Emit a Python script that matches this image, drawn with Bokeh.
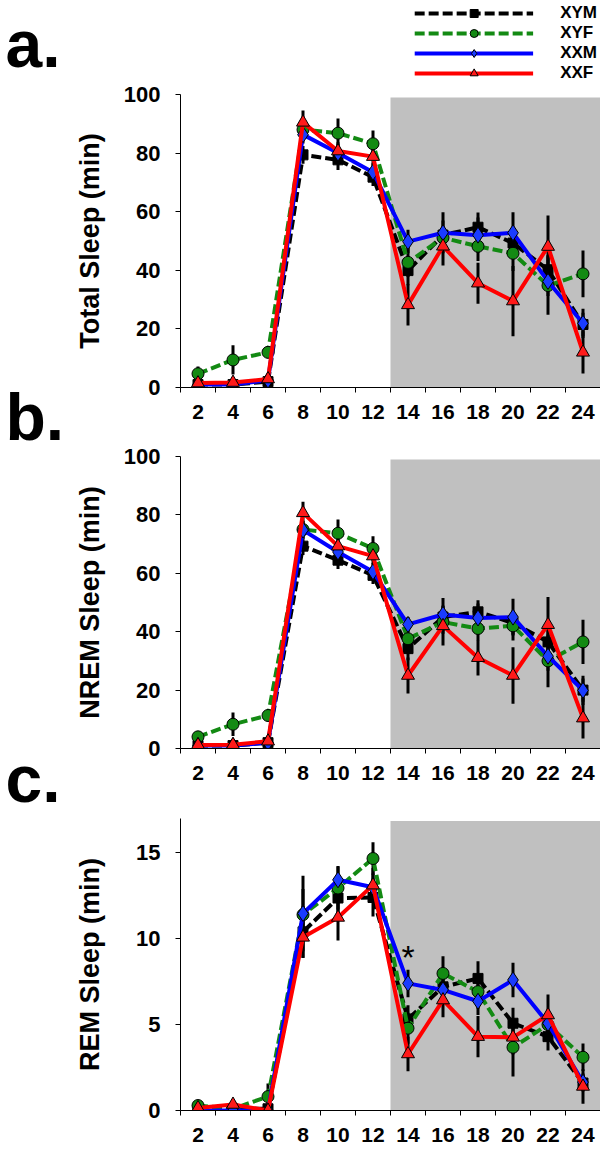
from bokeh.plotting import figure
from bokeh.layouts import column, row
from bokeh.models import FixedTicker, BoxAnnotation, Legend, LegendItem, Label, Range1d
from bokeh.core.properties import value
from bokeh.embed import file_html
from bokeh.resources import INLINE

# ---------------- data ----------------
hours = [2, 4, 6, 8, 10, 12, 14, 16, 18, 20, 22, 24]
groups = ["XYM", "XYF", "XXM", "XXF"]
panel_letters = ["a.", "b.", "c."]

# Total sleep (min)
total_xym = [1.0, 1.0, 2.0, 79.4, 77.7, 71.8, 39.9, 52.0, 54.7, 49.3, 40.2, 21.5]
total_xyf = [4.7, 9.4, 12.0, 88.0, 86.8, 83.2, 42.7, 51.1, 48.2, 45.8, 34.8, 38.8]
total_xxm = [1.0, 1.0, 2.5, 86.3, 80.0, 73.5, 49.8, 52.8, 52.0, 52.8, 36.2, 21.9]
total_xxf = [1.5, 1.7, 2.9, 90.5, 80.7, 78.8, 28.2, 48.2, 35.6, 29.5, 48.1, 12.0]
total_xym_err = [0.5, 0.5, 0.5, 3.0, 3.5, 3.0, 5.0, 5.0, 5.0, 4.0, 5.0, 4.0]
total_xyf_err = [2.5, 5.0, 2.0, 3.0, 5.0, 4.5, 5.0, 4.0, 5.0, 6.0, 10.0, 8.0]
total_xxm_err = [0.5, 0.5, 0.5, 3.0, 3.0, 3.0, 4.0, 7.0, 6.0, 7.0, 5.0, 5.0]
total_xxf_err = [0.5, 0.5, 0.5, 4.0, 3.0, 3.0, 7.0, 6.6, 7.0, 12.0, 10.6, 7.2]

# NREM sleep (min)
nrem_xym = [1.0, 1.0, 2.0, 69.3, 64.5, 59.3, 34.2, 45.0, 46.8, 43.0, 36.5, 20.0]
nrem_xyf = [4.0, 8.3, 11.3, 75.0, 73.7, 68.5, 37.6, 43.3, 41.1, 42.0, 30.0, 36.5]
nrem_xxm = [1.0, 1.0, 2.0, 74.8, 67.3, 60.5, 42.5, 45.9, 44.7, 45.0, 31.6, 19.9]
nrem_xxf = [1.2, 1.3, 2.5, 80.7, 69.3, 65.9, 25.0, 42.0, 31.1, 25.0, 42.4, 10.4]
nrem_xym_err = [0.5, 0.5, 0.5, 3.0, 3.0, 3.0, 4.0, 4.0, 4.0, 4.0, 5.0, 4.0]
nrem_xyf_err = [2.0, 4.0, 2.0, 3.0, 4.7, 4.2, 4.0, 4.0, 4.0, 5.0, 9.0, 7.6]
nrem_xxm_err = [0.5, 0.5, 0.5, 3.0, 3.0, 3.0, 2.5, 5.6, 5.0, 6.3, 5.0, 5.0]
nrem_xxf_err = [0.5, 0.5, 0.5, 3.8, 3.0, 3.0, 6.2, 6.7, 6.1, 9.7, 9.5, 7.0]

# REM sleep (min)
rem_xym = [0.1, 0.1, 0.1, 10.4, 12.37, 12.4, 5.33, 7.2, 7.69, 5.08, 4.30, 1.6]
rem_xyf = [0.29, 0.1, 0.81, 11.4, 12.95, 14.67, 4.79, 7.98, 6.92, 3.68, 5.0, 3.10]
rem_xxm = [0.0, 0.0, 0.0, 11.47, 13.43, 13.0, 7.40, 7.02, 6.36, 7.60, 5.08, 1.65]
rem_xxf = [0.15, 0.35, 0.0, 10.08, 11.24, 13.12, 3.29, 6.43, 4.30, 4.26, 5.56, 1.40]
rem_xym_err = [0.1, 0.1, 0.1, 1.5, 1.0, 1.1, 0.8, 0.8, 1.0, 0.9, 0.8, 0.5]
rem_xyf_err = [0.2, 0.2, 0.76, 1.5, 1.25, 0.95, 0.9, 1.0, 1.0, 1.7, 0.8, 0.8]
rem_xxm_err = [0.1, 0.1, 0.1, 2.2, 0.8, 0.8, 0.8, 0.8, 0.8, 1.0, 0.8, 0.5]
rem_xxf_err = [0.1, 0.2, 0.1, 1.2, 1.34, 1.0, 1.0, 1.0, 1.2, 1.0, 1.2, 1.0]

y_ticks_sleep = [0, 20, 40, 60, 80, 100]
y_ticks_rem = [0, 5, 10, 15]

# ---------------- styles ----------------
FONT = "Liberation Sans"
styles = {
    "XYM": dict(color="black", dash="10 4", marker="square", fill="black", size=10),
    "XYF": dict(color="#138a13", dash="10 4", marker="circle", fill="#138a13", size=12),
    "XXM": dict(color="#0000ff", dash="solid", marker="diamond", fill="#1a3cff", size=16),
    "XXF": dict(color="#ff0000", dash="solid", marker="triangle", fill="#ff1a1a", size=13),
}

x_minor = [1, 3, 5, 7, 9, 11, 13, 15, 17, 19, 21, 23, 25]
MAIN_W = 535
LEFT_W = 65
LEG_H = 82


def bare_figure(w, h, xr, yr):
    f = figure(width=w, height=h, output_backend="svg", toolbar_location=None, title=None,
               x_range=xr, y_range=yr, min_border=0, min_border_left=0,
               min_border_right=0, min_border_top=0, min_border_bottom=0)
    f.axis.visible = False
    f.grid.visible = False
    f.outline_line_color = None
    return f


def make_panel(means, errs, ymax, yticks, height, top, bottom, ylabel, lab_standoff,
               shade_top=None):
    p = figure(width=MAIN_W, height=height, output_backend="svg", toolbar_location=None,
               title=None, x_range=Range1d(1, 25), y_range=Range1d(0, ymax),
               min_border_left=115, min_border_right=0,
               min_border_top=top, min_border_bottom=bottom)
    p.outline_line_color = None
    p.xgrid.visible = False
    p.ygrid.visible = False
    p.background_fill_color = "white"
    p.border_fill_color = "white"

    p.add_layout(BoxAnnotation(left=13, right=25, bottom=0, top=shade_top,
                               fill_color="#c0c0c0", fill_alpha=1.0,
                               line_color=None, level="underlay"))

    xa = p.xaxis[0]
    xa.ticker = FixedTicker(ticks=hours, minor_ticks=x_minor)
    xa.major_tick_out = 0
    xa.major_tick_in = 0
    xa.minor_tick_out = 5
    xa.minor_tick_in = 0
    xa.minor_tick_line_color = "black"
    xa.axis_line_color = "black"
    xa.major_label_standoff = 12
    xa.major_label_text_font = FONT
    xa.major_label_text_font_style = "bold"
    xa.major_label_text_font_size = "21px"
    xa.major_label_text_color = "black"

    ya = p.yaxis[0]
    ya.ticker = FixedTicker(ticks=yticks, minor_ticks=[])
    ya.major_tick_out = 5
    ya.major_tick_in = 0
    ya.minor_tick_out = 0
    ya.minor_tick_in = 0
    ya.axis_line_color = "black"
    ya.major_label_standoff = 15
    ya.major_label_text_font = FONT
    ya.major_label_text_font_style = "bold"
    ya.major_label_text_font_size = "22px"
    ya.major_label_text_color = "black"
    ya.axis_label = ylabel
    ya.axis_label_text_font = FONT
    ya.axis_label_text_font_style = "bold"
    ya.axis_label_text_font_size = "27px"
    ya.axis_label_text_color = "black"
    ya.axis_label_standoff = lab_standoff

    for g in groups:
        m, e = means[g], errs[g]
        p.segment(x0=hours, y0=[a - b for a, b in zip(m, e)],
                  x1=hours, y1=[a + b for a, b in zip(m, e)],
                  line_color="black", line_width=3)

    for g in groups:
        s = styles[g]
        p.line(hours, means[g], line_color=s["color"], line_width=4, line_dash=s["dash"])
        p.scatter(hours, means[g], marker=s["marker"], size=s["size"],
                  fill_color=s["fill"], line_color="black", line_width=1)
    return p


# legend strip (above panel a); its renderers sit outside the visible range
leg_fig = bare_figure(MAIN_W, LEG_H, Range1d(0, 100), Range1d(0, 100))
items = []
for g in groups:
    s = styles[g]
    lr = leg_fig.line([-50, -40], [-50, -50], line_color=s["color"], line_width=4,
                      line_dash=s["dash"])
    sr = leg_fig.scatter([-50], [-50], marker=s["marker"], size=s["size"],
                         fill_color=s["fill"], line_color="black", line_width=1)
    items.append(LegendItem(label=g, renderers=[lr, sr]))
leg = Legend(items=items, location="top_right", orientation="vertical",
             glyph_width=119, glyph_height=20, label_standoff=27,
             label_height=20, padding=0, margin=3, spacing=0,
             border_line_color=None, background_fill_alpha=0,
             label_text_font=FONT, label_text_font_style="bold",
             label_text_font_size="17px", label_text_color="black")
leg_fig.add_layout(leg)

pa = make_panel({"XYM": total_xym, "XYF": total_xyf, "XXM": total_xxm, "XXF": total_xxf},
                {"XYM": total_xym_err, "XYF": total_xyf_err, "XXM": total_xxm_err, "XXF": total_xxf_err},
                100, y_ticks_sleep, 343, 12, 38, "Total Sleep (min)", 16, shade_top=99)
pb = make_panel({"XYM": nrem_xym, "XYF": nrem_xyf, "XXM": nrem_xxm, "XXF": nrem_xxf},
                {"XYM": nrem_xym_err, "XYF": nrem_xyf_err, "XXM": nrem_xxm_err, "XXF": nrem_xxf_err},
                100, y_ticks_sleep, 362, 31, 39, "NREM Sleep (min)", 16, shade_top=99)
pc = make_panel({"XYM": rem_xym, "XYF": rem_xyf, "XXM": rem_xxm, "XXF": rem_xxf},
                {"XYM": rem_xym_err, "XYF": rem_xyf_err, "XXM": rem_xxm_err, "XXF": rem_xxf_err},
                17, y_ticks_rem, 358, 31, 35, "REM Sleep (min)", 28, shade_top=16.85)
pc.add_layout(Label(x=14, y=8.96, text="*", text_font=FONT, text_font_size="34px",
                    text_color="black", text_align="center", text_baseline="middle"))

# panel letters strip (left column), y measured downward in pixels
TOTAL_H = LEG_H + 343 + 362 + 358
let_fig = bare_figure(LEFT_W, TOTAL_H, Range1d(0, LEFT_W), Range1d(TOTAL_H, 0))
let_fig.text(x=[5, 5, 5], y=[43, 416, 778], text=panel_letters,
             text_font=value(FONT), text_font_style="bold", text_font_size="66px",
             text_color="black", text_baseline="middle", text_align="left")

layout = row(let_fig, column(leg_fig, pa, pb, pc, spacing=0), spacing=0)
open("out.html", "w").write(file_html(layout, INLINE))
